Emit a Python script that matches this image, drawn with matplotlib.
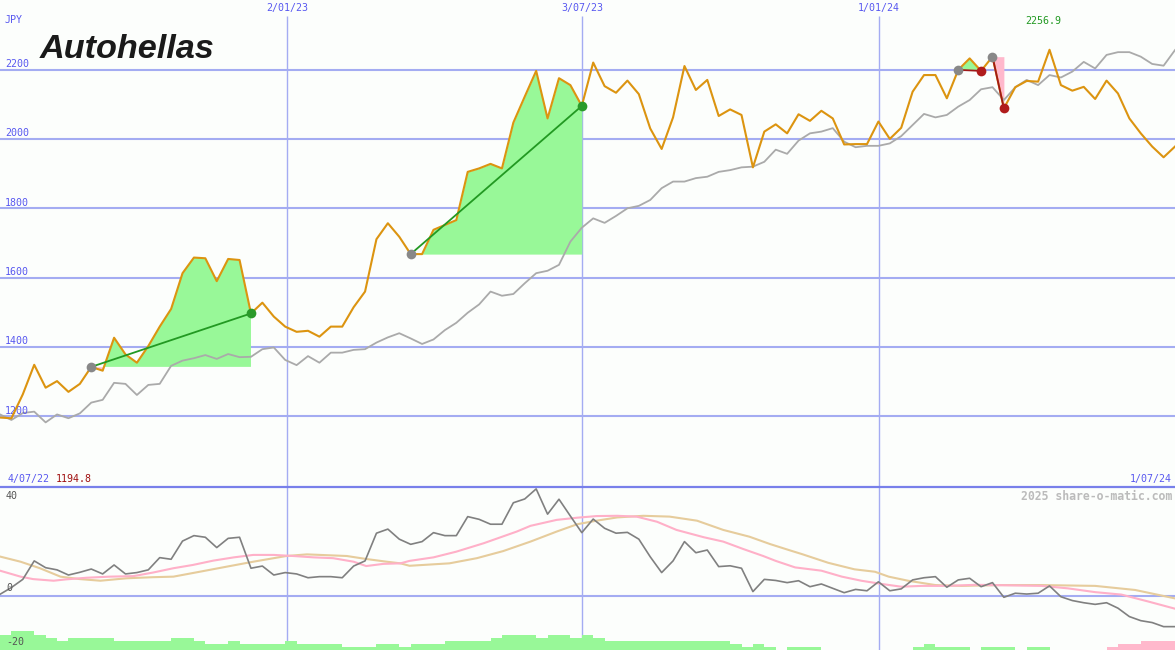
import numpy as np
import matplotlib
matplotlib.use('Agg')
import matplotlib.pyplot as plt

# weekly closing price (JPY), index 0 = 4/07/22 ... index 103 = 1/07/24
price = [1197, 1194.8, 1264, 1349, 1283, 1302, 1271, 1294, 1343, 1332,
         1427, 1379, 1355, 1403, 1459, 1510, 1613, 1658, 1656, 1590,
         1654, 1651, 1497, 1528, 1488, 1459, 1444, 1447, 1430, 1459,
         1459, 1515, 1560, 1711, 1757, 1718, 1668, 1668, 1738, 1752,
         1766, 1905, 1915, 1928, 1915, 2047, 2122, 2196, 2059, 2175,
         2155, 2095, 2220, 2152, 2133, 2168, 2129, 2030, 1971, 2062,
         2210, 2141, 2170, 2066, 2085, 2069, 1918, 2021, 2042, 2016,
         2071, 2052, 2081, 2059, 1984, 1985, 1985, 2050, 2000, 2032,
         2136, 2184, 2184, 2117, 2199, 2232, 2196, 2237, 2088, 2149,
         2167, 2165, 2256.9, 2155, 2139, 2150, 2115, 2168, 2131, 2059,
         2016, 1978, 1947, 1978]

# grey comparison line
trend = [1206, 1190, 1210, 1214, 1183, 1206, 1195, 1209, 1240, 1248,
         1297, 1294, 1262, 1291, 1294, 1346, 1361, 1368, 1377, 1366,
         1380, 1371, 1372, 1394, 1399, 1363, 1348, 1374, 1355, 1384,
         1384, 1392, 1394, 1413, 1428, 1440, 1425, 1409, 1422, 1449,
         1470, 1499, 1523, 1560, 1548, 1553, 1584, 1613, 1620, 1637,
         1704, 1744, 1771, 1758, 1778, 1800, 1807, 1824, 1858, 1877,
         1877, 1887, 1891, 1905, 1910, 1918, 1920, 1934, 1969, 1957,
         1995, 2016, 2021, 2031, 1992, 1976, 1980, 1980, 1987, 2008,
         2040, 2072, 2062, 2069, 2093, 2112, 2143, 2149, 2112, 2149,
         2170, 2155, 2184, 2177, 2194, 2222, 2203, 2242, 2250, 2250,
         2237, 2216, 2211, 2256]

# lower panel oscillator
osc = [0.5, 3.0, 6.0, 12.8, 10.3, 9.5, 7.6, 8.6, 9.8, 8.0,
       11.3, 8.0, 8.5, 9.5, 14.0, 13.4, 20.1, 22.1, 21.5, 17.7,
       21.1, 21.5, 10.1, 10.9, 7.6, 8.5, 8.0, 6.6, 7.0, 7.0,
       6.6, 10.9, 12.8, 23.0, 24.5, 20.8, 18.9, 19.9, 23.2, 22.1,
       22.1, 29.1, 28.1, 26.3, 26.3, 34.2, 35.6, 39.3, 30.0, 35.5,
       29.3, 23.2, 28.2, 24.8, 23.0, 23.3, 20.8, 14.3, 8.5, 12.8,
       19.9, 15.8, 16.8, 10.7, 11.0, 10.1, 1.5, 6.0, 5.6, 4.8,
       5.5, 3.3, 4.3, 2.7, 1.1, 2.3, 1.8, 5.1, 1.8, 2.5,
       5.8, 6.6, 7.0, 3.1, 5.8, 6.4, 3.3, 4.8, -0.6, 0.9,
       0.6, 0.9, 3.6, -0.4, -1.8, -2.6, -3.2, -2.6, -4.6, -7.7,
       -9.2, -9.9, -11.4, -11.4]

# pink (fast) and tan (slow) signal lines, read at their own positions
fast_x = [0.0, 1.8, 2.9, 4.7, 5.8, 7.6, 9.6, 11.7, 13.4, 15.2,
          16.9, 18.7, 20.5, 22.2, 24.0, 25.7, 27.5, 29.2, 31.0, 32.1,
          33.6, 35.1, 35.9, 38.0, 40.0, 42.4, 45.3, 46.5, 48.8, 50.6,
          52.3, 54.1, 55.8, 57.6, 59.3, 61.7, 63.4, 65.2, 66.9, 68.0,
          69.7, 72.0, 73.8, 75.5, 77.3, 79.0, 80.8, 83.1, 85.5, 88.4,
          91.3, 93.6, 96.0, 98.3, 100.7, 103.0]
fast = [9.2, 7.0, 6.1, 5.5, 6.0, 6.6, 7.0, 7.2, 8.5, 10.1,
        11.3, 12.9, 14.1, 15.0, 15.0, 14.6, 14.1, 13.8, 12.5, 10.9,
        11.7, 11.9, 12.8, 14.1, 16.2, 19.3, 23.6, 25.7, 27.9, 28.7,
        29.3, 29.4, 29.1, 27.2, 24.2, 21.5, 19.9, 17.1, 14.6, 12.8,
        10.4, 9.2, 7.0, 5.5, 4.3, 3.3, 3.6, 3.6, 4.0, 3.8,
        3.6, 2.7, 1.3, 0.4, -2.2, -4.8]
slow_x = [0.0, 1.8, 3.5, 5.3, 7.0, 8.8, 11.1, 13.4, 15.2, 17.5,
          19.9, 22.2, 25.1, 26.9, 30.4, 32.1, 33.9, 35.1, 35.9, 39.4,
          41.8, 44.1, 46.5, 48.8, 50.6, 52.3, 54.1, 56.4, 58.7, 61.1,
          63.4, 65.7, 67.5, 69.3, 70.3, 72.6, 74.9, 76.7, 77.9, 79.6,
          82.0, 84.3, 87.8, 91.3, 96.0, 99.5, 103.0]
slow = [14.4, 12.5, 10.1, 7.0, 6.1, 5.5, 6.4, 6.8, 7.0, 8.8,
        10.7, 12.5, 14.6, 15.2, 14.6, 13.5, 12.5, 11.9, 11.0, 11.9,
        13.8, 16.4, 19.9, 23.6, 26.3, 27.6, 28.8, 29.4, 29.1, 27.6,
        24.2, 21.7, 19.0, 16.6, 15.3, 12.1, 9.7, 8.8, 7.0, 5.5,
        3.9, 3.6, 3.9, 3.9, 3.6, 2.1, -1.0]

# bars along the bottom (positive green, negative pink)
bars = [5.5, 7.0, 7.0, 5.5, 4.5, 3.3, 4.5, 4.5, 4.5, 4.5,
        3.3, 3.3, 3.3, 3.3, 3.3, 4.5, 4.5, 3.3, 2.2, 2.2,
        3.3, 2.2, 2.2, 2.2, 2.2, 3.3, 2.2, 2.2, 2.2, 2.2,
        1.2, 1.2, 1.2, 2.2, 2.2, 1.2, 2.2, 2.2, 2.2, 3.3,
        3.3, 3.3, 3.3, 4.5, 5.5, 5.5, 5.5, 4.5, 5.5, 5.5,
        4.5, 5.5, 4.5, 3.3, 3.3, 3.3, 3.3, 3.3, 3.3, 3.3,
        3.3, 3.3, 3.3, 3.3, 2.2, 1.2, 2.2, 1.2, 0, 1.2,
        1.2, 1.2, 0, 0, 0, 0, 0, 0, 0, 0,
        1.2, 2.2, 1.2, 1.2, 1.2, 0, 1.2, 1.2, 1.2, 0,
        1.2, 1.2, 0, 0, 0, 0, 0, -1.2, -2.2, -2.2,
        -3.3, -3.3, -3.3]

# (entry index, exit index)
trades = [(8, 22), (36, 51), (84, 86), (87, 88)]

price_levels = [1200, 1400, 1600, 1800, 2000, 2200]
date_pos = [25.16, 51.02, 77.05]
date_labels = ['2/01/23', '3/07/23', '1/01/24']
start_label, end_label = '4/07/22', '1/07/24'
low_label, high_label = '1194.8', '2256.9'

BG = '#fcfefc'
GRID = '#a4acf2'
LABEL = '#5858f0'
MONO = 'DejaVu Sans Mono'
W, H = 1175, 650

fig = plt.figure(figsize=(W / 100, H / 100), dpi=100, facecolor=BG)
ax = fig.add_axes([0, 163 / H, 1, 487 / H])
ax2 = fig.add_axes([0, 0, 1, 163 / H])
n = len(price)
x = np.arange(n)
for a in (ax, ax2):
    a.set_xlim(0, n - 1)
    a.set_axis_off()
ax.set_ylim(996.8, 2400.3)
ax2.set_ylim(-20, 40)

# grid
for v in price_levels:
    ax.axhline(v, color=GRID, lw=1.5, zorder=1)
ax.vlines(date_pos, 996.8, 2354, color=GRID, lw=1.0, zorder=1)
ax2.vlines(date_pos, -20, 40, color=GRID, lw=1.0, zorder=1)
ax2.axhline(0, color=GRID, lw=1.5, zorder=1)
ax2.axhline(40, color='#7880ea', lw=1.6, zorder=1, clip_on=False)

# trades
for a_i, b_i in trades:
    xs = x[a_i:b_i + 1]
    seg = np.array(price[a_i:b_i + 1])
    entry = price[a_i]
    ax.fill_between(xs, seg, entry, where=seg >= entry, interpolate=True,
                    color='#98f898', lw=0, zorder=2)
    ax.fill_between(xs, seg, entry, where=seg <= entry, interpolate=True,
                    color='#ffb8cc', lw=0, zorder=2)
    win = price[b_i] > entry
    ax.plot([a_i, b_i], [entry, price[b_i]], color='#229922' if win else '#a01818',
            lw=1.3, zorder=5)
    ax.plot(a_i, entry, 'o', color='#888888', ms=7, mec='none', zorder=6)
    ax.plot(b_i, price[b_i], 'o', color='#2a9a2a' if win else '#b01c1c',
            ms=7, mec='none', zorder=6)

ax.plot(x, trend, color='#aaaaaa', lw=1.3, zorder=3)
ax.plot(x, price, color='#dc9410', lw=1.5, zorder=4)

# lower panel
bar_cols = ['#98f898' if v >= 0 else '#ffb8cc' for v in bars]
ax2.bar(np.arange(len(bars)), np.abs(bars), width=1, bottom=-20, align='edge',
        color=bar_cols, lw=0, zorder=2)
ax2.plot(slow_x, slow, color='#e6cc9c', lw=1.5, zorder=3)
ax2.plot(fast_x, fast, color='#ffb0c8', lw=1.5, zorder=3)
ax2.plot(x, osc, color='#808080', lw=1.2, zorder=4)

# texts
def px_text(xp, yp, s, **kw):
    kw.setdefault('family', MONO)
    kw.setdefault('fontsize', 7.2)
    kw.setdefault('va', 'center')
    fig.text(xp / W, 1 - yp / H, s, **kw)

for v in price_levels:
    ax.annotate(str(v), xy=(5 / W, v), xycoords=('axes fraction', 'data'),
                xytext=(0, 0.5), textcoords='offset points', va='bottom',
                color=LABEL, family=MONO, fontsize=7.2)
for p, s in zip(date_pos, date_labels):
    ax.annotate(s, xy=(p, 1), xycoords=('data', 'axes fraction'),
                xytext=(0, -2.5), textcoords='offset points', va='top', ha='center',
                color=LABEL, family=MONO, fontsize=7.2)

px_text(5, 20, 'JPY', color=LABEL)
px_text(8, 479, start_label, color=LABEL)
px_text(56, 479, low_label, color='#a01010')
px_text(1172, 479, end_label, color=LABEL, ha='right')
px_text(1025, 21, high_label, color='#229922')
px_text(1172, 496, '2025 share-o-matic.com', color='#bbbbbb', ha='right',
        fontsize=8.3, fontweight='bold')
px_text(6, 496, '40', color='#555555')
px_text(6, 588, '0', color='#555555')
px_text(6, 642, '-20', color='#555555')

fig.text(40 / W, 1 - 50 / H, 'Autohellas', family='Liberation Sans', fontsize=24.7,
         fontweight='bold', fontstyle='italic', color='#1a1a1a', va='center')

fig.savefig('out.png', dpi=100, facecolor=BG)
